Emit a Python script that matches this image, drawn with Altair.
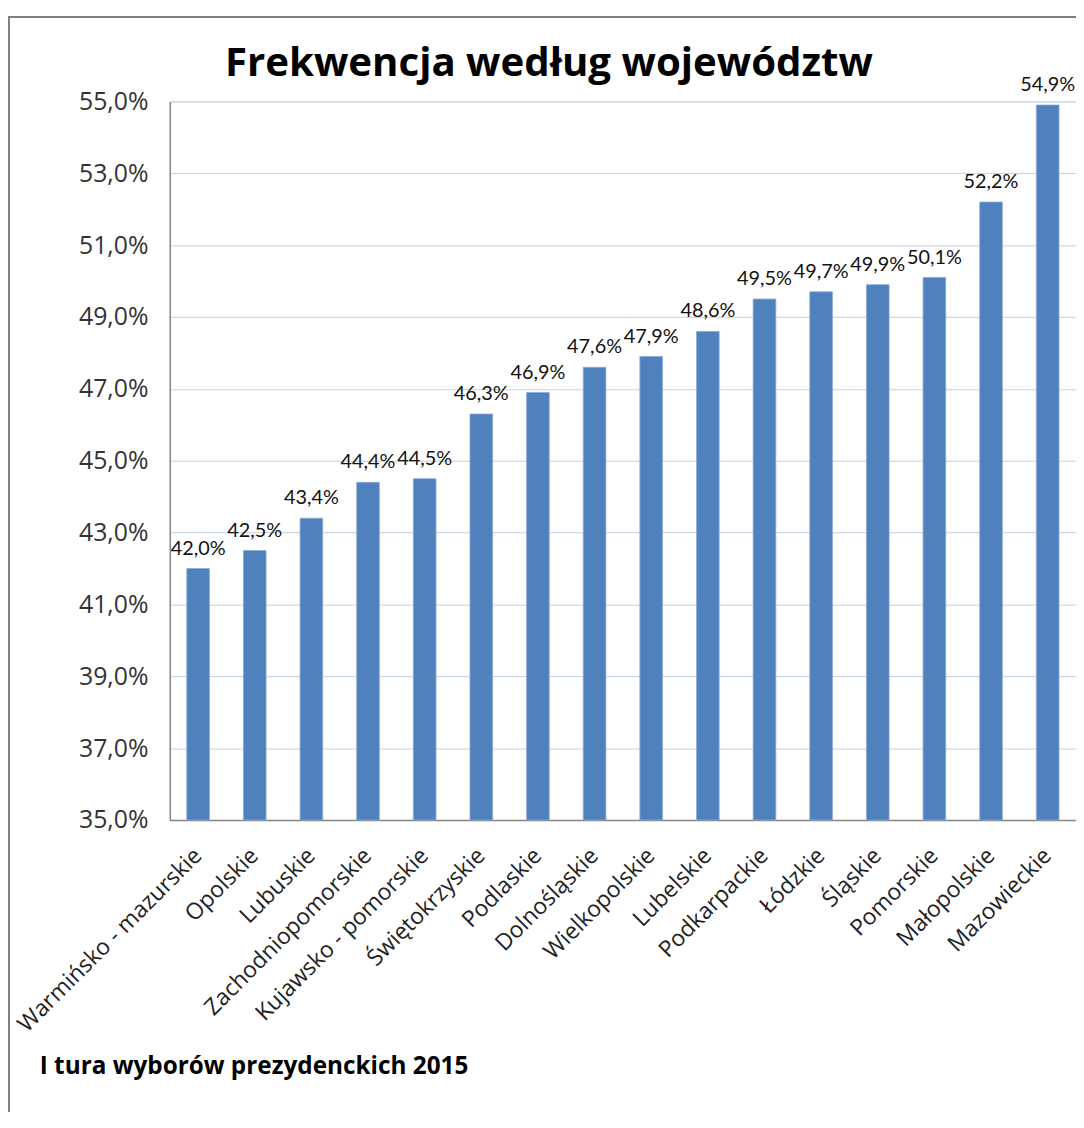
import altair as alt
import pandas as pd

categories = ["Warmińsko - mazurskie", "Opolskie", "Lubuskie", "Zachodniopomorskie",
              "Kujawsko - pomorskie", "Świętokrzyskie", "Podlaskie", "Dolnośląskie",
              "Wielkopolskie", "Lubelskie", "Podkarpackie", "Łódzkie", "Śląskie",
              "Pomorskie", "Małopolskie", "Mazowieckie"]
values = [42.0, 42.5, 43.4, 44.4, 44.5, 46.3, 46.9, 47.6, 47.9, 48.6,
          49.5, 49.7, 49.9, 50.1, 52.2, 54.9]
y_ticks = [35, 37, 39, 41, 43, 45, 47, 49, 51, 53, 55]
title_text = "Frekwencja według województw"
footer_text = "I tura wyborów prezydenckich 2015"

df = pd.DataFrame({"woj": categories, "val": values})
df["label"] = [f"{v:.1f}".replace(".", ",") + "%" for v in values]

W = 913
H = 724

xenc = alt.X("woj:N", sort=categories, title=None,
             scale=alt.Scale(paddingInner=0.6, paddingOuter=0.3),
             axis=alt.Axis(labelAngle=-45, labelAlign="right", labelBaseline="middle",
                           labelFont="Open Sans", labelFontSize=23, labelColor="#222222",
                           labelPadding=32, ticks=False, domainColor="#868686",
                           domainWidth=1.5, labelOverlap=False, labelLimit=400))
yenc = alt.Y("val:Q", title=None,
             scale=alt.Scale(domain=[35, 55], nice=False, zero=False),
             axis=alt.Axis(values=y_ticks, labelExpr="replace(format(datum.value, '.1f'), '.', ',') + '%'",
                           labelFont="Open Sans", labelFontSize=25, labelColor="#333333",
                           labelPadding=22, ticks=False, domainColor="#868686",
                           domainWidth=1.5, grid=True, gridColor="#bfd1e8", gridWidth=1))

bars = alt.Chart(df).mark_bar(color="#4f81bd", stroke="#8aaad6", strokeWidth=0.8).encode(
    x=xenc, y=yenc, y2=alt.datum(35))

labels = alt.Chart(df).mark_text(font="Lato", fontSize=20, color="#111111",
                                 baseline="alphabetic", dy=-14).encode(
    x=alt.X("woj:N", sort=categories), y="val:Q", text="label:N")

title = alt.Chart(pd.DataFrame({"t": [title_text]})).mark_text(
    font="Open Sans", fontSize=40.5, fontWeight="bold", color="#000000",
    align="center", baseline="alphabetic").encode(
    x=alt.value(382), y=alt.value(-26), text="t:N")

footer = alt.Chart(pd.DataFrame({"t": [footer_text]})).mark_text(
    font="Open Sans", fontSize=24.5, fontWeight="bold", color="#000000",
    align="left", baseline="alphabetic").encode(
    x=alt.value(-131), y=alt.value(980), text="t:N")

frame_v = alt.Chart(pd.DataFrame({"a": [0]})).mark_rule(color="#808080", strokeWidth=2).encode(
    x=alt.value(-162), y=alt.value(-86), y2=alt.value(1040))
frame_h = alt.Chart(pd.DataFrame({"a": [0]})).mark_rule(color="#808080", strokeWidth=2).encode(
    x=alt.value(-163), x2=alt.value(W + 10), y=alt.value(-85))

chart = alt.layer(bars, labels, title, footer, frame_v, frame_h).properties(
    width=W, height=H,
    autosize=alt.AutoSizeParams(type="none"),
    padding={"left": 163, "top": 90, "right": 0, "bottom": 290},
).configure_view(stroke=None).configure(background="white")

chart.save("out.html", embed_options={"renderer": "svg", "actions": False})
